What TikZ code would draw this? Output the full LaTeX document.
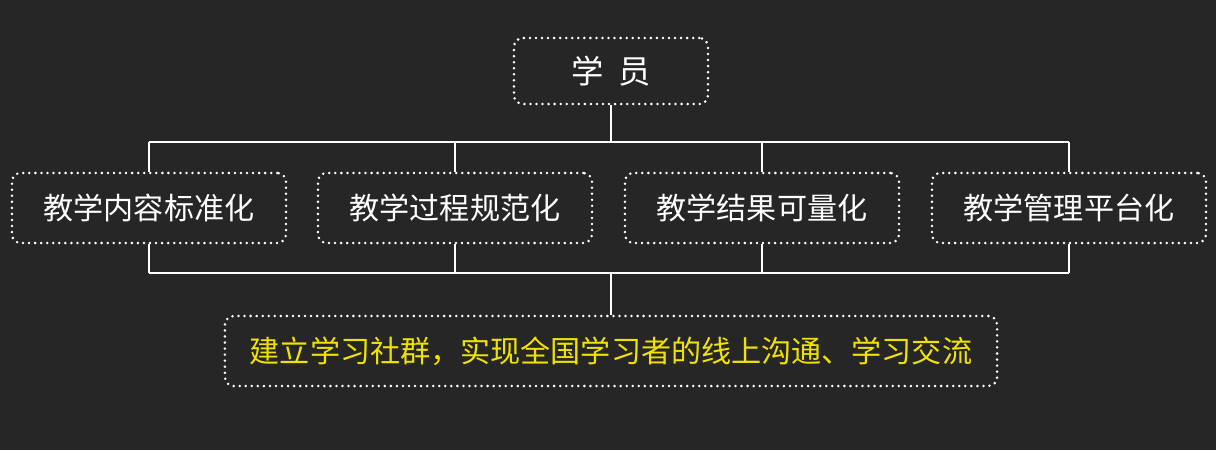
\documentclass[tikz,border=0pt]{standalone}
\usepackage{fontspec}
\usepackage{tikz}
\usetikzlibrary{positioning, calc}
\newfontfamily\cjk{Noto Sans CJK SC}
\definecolor{bgDark}{RGB}{38,38,38}
\definecolor{goalYellow}{RGB}{240,226,0}
\tikzset{
  dotbox/.style = {draw=white, line width=2pt, dash pattern=on 0pt off 4.3pt, line cap=round,
    rounded corners=0.22cm, align=center, text=white, inner sep=0pt,
    font=\cjk\fontsize{21.4}{25}\selectfont},
  link/.style = {draw=white, line width=1.3pt}
}
\begin{document}
\begin{tikzpicture}[x=0.025cm, y=-0.025cm]
  \fill[bgDark] (0,0) rectangle (1216,450);
  \useasboundingbox (0,0) rectangle (1216,450);

  \node[dotbox, font=\cjk\fontsize{23}{27}\selectfont, minimum width=4.85cm, minimum height=1.65cm]
    (stu) at (611,71) {学\hspace{0.45em}员};

  \node[dotbox, minimum width=6.85cm, minimum height=1.75cm] (std) at (149,208) {教学内容标准化};
  \node[dotbox, minimum width=6.85cm, minimum height=1.75cm] (prc) at (455,208) {教学过程规范化};
  \node[dotbox, minimum width=6.85cm, minimum height=1.75cm] (res) at (762,208) {教学结果可量化};
  \node[dotbox, minimum width=6.85cm, minimum height=1.75cm] (mgt) at (1069,208) {教学管理平台化};

  \node[dotbox, text=goalYellow, minimum width=19.3cm, minimum height=1.75cm] (goal) at (611,351)
    {建立学习社群，实现全国学习者的线上沟通、学习交流};

  \coordinate (busTop) at (611,142);
  \coordinate (busBot) at (611,273);

  % upper bus
  \draw[link] (stu.south) -- (busTop);
  \draw[link] (std.north |- busTop) -- (mgt.north |- busTop);
  \foreach \m in {std, prc, res, mgt}
    \draw[link] (\m.north |- busTop) -- (\m.north);

  % lower bus
  \draw[link] (std.south |- busBot) -- (mgt.south |- busBot);
  \foreach \m in {std, prc, res, mgt}
    \draw[link] (\m.south) -- (\m.south |- busBot);
  \draw[link] (busBot) -- (goal.north);
\end{tikzpicture}
\end{document}
